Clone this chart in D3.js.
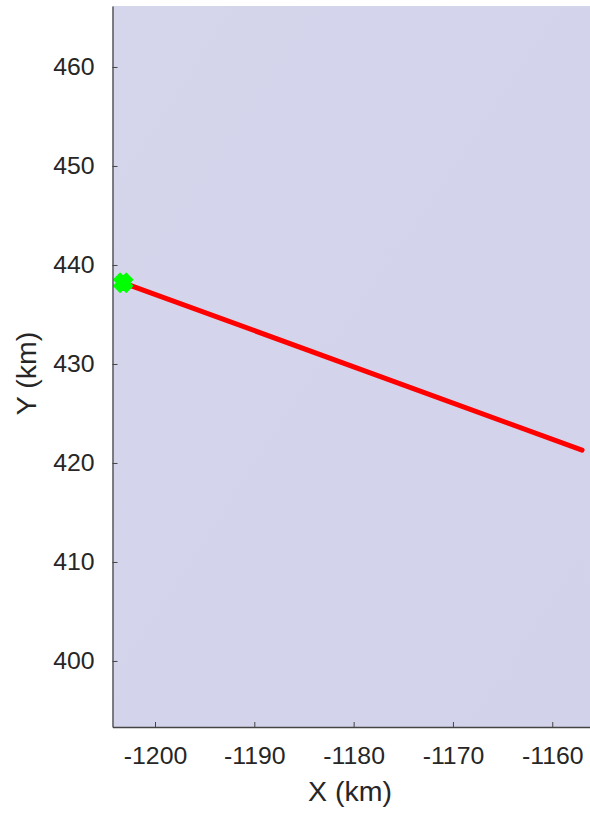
<!DOCTYPE html>
<html><head><meta charset="utf-8">
<script src="https://cdn.jsdelivr.net/npm/d3@7"></script>
<style>body{margin:0;background:#fff}svg{display:block}</style>
</head><body>
<script>
const xDomain = [-1204.28, -1156.2];
const yDomain = [393.33, 466.16];
const xTicks = [-1200, -1190, -1180, -1170, -1160];
const yTicks = [400, 410, 420, 430, 440, 450, 460];
const lineX = [-1203.2, -1157.0];
const lineY = [438.2, 421.3];
const startX = [-1203.2];
const startY = [438.2];

const W = 590, H = 813;
const m = {l:112.5, t:6, r:0, b:86};
const svg = d3.select("body").append("svg").attr("width", W).attr("height", H);
const x = d3.scaleLinear().domain(xDomain).range([m.l, W - m.r]);
const y = d3.scaleLinear().domain(yDomain).range([H - m.b, m.t]);

const defs = svg.append("defs");
const lg = defs.append("linearGradient").attr("id","bg").attr("x1","0").attr("y1","0").attr("x2","1").attr("y2","1");
lg.append("stop").attr("offset","0").attr("stop-color","#d5d6ec");
lg.append("stop").attr("offset","0.6").attr("stop-color","#d3d4eb");
lg.append("stop").attr("offset","1").attr("stop-color","#d2d3ea");

svg.append("rect").attr("x", x(xDomain[0])).attr("y", y(yDomain[1]))
  .attr("width", x(xDomain[1]) - x(xDomain[0])).attr("height", y(yDomain[0]) - y(yDomain[1]))
  .attr("fill", "url(#bg)");

const pts = lineX.map((v,i)=>[v, lineY[i]]);
svg.append("path").datum(pts)
  .attr("d", d3.line().x(d=>x(d[0])).y(d=>y(d[1])))
  .attr("stroke", "#ff0000").attr("stroke-width", 5).attr("stroke-linecap","round").attr("fill","none");

// fat X marker: cross with half-width a and arm extent e, rotated 45deg
const a = 4.6, e = 9.0;
const crossPts = [[e,a],[a,a],[a,e],[-a,e],[-a,a],[-e,a],[-e,-a],[-a,-a],[-a,-e],[a,-e],[a,-a],[e,-a]];
const crossPath = d3.line()(crossPts) + "Z";
svg.selectAll(".start").data(startX.map((v,i)=>[v,startY[i]])).enter().append("path")
  .attr("transform", d=>`translate(${x(d[0])},${y(d[1])}) rotate(45)`)
  .attr("d", crossPath)
  .attr("fill", "#00ff00").attr("stroke","#00ff00").attr("stroke-width",1.2).attr("stroke-linejoin","round");

const font = "'Liberation Sans', Arial, Helvetica, sans-serif";
const xAxis = svg.append("g").attr("transform", `translate(0,${H - m.b})`)
  .call(d3.axisBottom(x).tickValues(xTicks).tickSizeInner(-5).tickSizeOuter(0).tickPadding(19).tickFormat(d3.format("d")));
const yAxis = svg.append("g").attr("transform", `translate(${m.l},0)`)
  .call(d3.axisLeft(y).tickValues(yTicks).tickSizeInner(-5).tickSizeOuter(0).tickPadding(18).tickFormat(d3.format("d")));
[xAxis, yAxis].forEach(ax=>{
  ax.select(".domain").attr("stroke","#444").attr("stroke-width",1.3);
  ax.selectAll(".tick line").attr("stroke","#444");
  ax.selectAll("text").attr("font-family", font).attr("font-size", 24.8).attr("fill","#262626");
});
xAxis.selectAll("text").text(d=>"-" + Math.abs(d));

svg.append("text").attr("x", 350).attr("y", 801)
  .attr("text-anchor","middle").attr("font-family",font).attr("font-size",28.5).attr("fill","#262626").text("X (km)");
svg.append("text").attr("transform", `translate(36,373.5) rotate(-90)`)
  .attr("text-anchor","middle").attr("font-family",font).attr("font-size",28.5).attr("fill","#262626").text("Y (km)");
</script>
</body></html>
